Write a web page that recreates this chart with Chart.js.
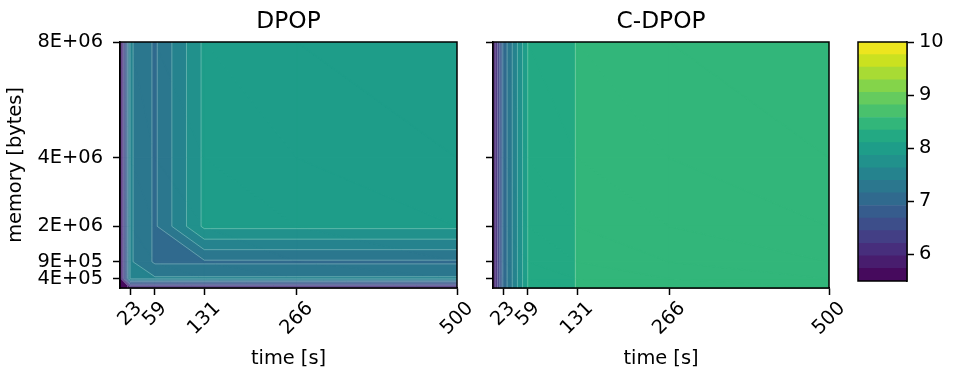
<!DOCTYPE html>
<html>
<head>
<meta charset="utf-8">
<script src="https://cdn.jsdelivr.net/npm/chart.js@4.4.0/dist/chart.umd.min.js"></script>
<style>
  html, body { margin: 0; padding: 0; background: #fff; }
  #wrap { position: relative; width: 954px; height: 377px; }
  #wrap canvas { position: absolute; left: 0; top: 0; }
</style>
</head>
<body>
<div id="wrap">
  <canvas id="dpop" width="954" height="377"></canvas>
  <canvas id="cdpop" width="954" height="377"></canvas>
  <canvas id="cbar" width="954" height="377"></canvas>
</div>
<script>
// grid of the contour data
const times = [8, 23, 59, 131, 266, 500];
const memories = [1e5, 4e5, 9.4e5, 2.08e6, 4.28e6, 8e6];
const timeTicks = [23, 59, 131, 266, 500];
const memoryTicks = [4e5, 9.4e5, 2.08e6, 4.28e6, 8e6];
const colorTicks = [6, 7, 8, 9, 10];

// rows = memories (bottom to top), columns = times
const dpopValues = [
  [5.55, 5.80, 5.80, 5.80, 5.80, 5.80],
  [5.55, 7.43, 7.43, 7.43, 7.43, 7.43],
  [5.55, 7.43, 7.12, 7.12, 7.12, 7.12],
  [5.55, 7.43, 7.12, 7.92, 7.92, 7.92],
  [5.55, 7.43, 7.12, 7.92, 7.95, 7.95],
  [5.55, 7.43, 7.12, 7.92, 7.95, 7.97]
];
const cdpopValues = [
  [5.60, 6.98, 8.11, 8.35, 8.40, 8.45],
  [5.60, 6.98, 8.11, 8.35, 8.40, 8.45],
  [5.60, 6.98, 8.11, 8.35, 8.40, 8.45],
  [5.60, 6.98, 8.11, 8.35, 8.40, 8.45],
  [5.60, 6.98, 8.11, 8.35, 8.40, 8.45],
  [5.60, 6.98, 8.11, 8.35, 8.40, 8.45]
];

const levelMin = 5.5, levelMax = 10, nLevels = 20;
const levels = [];
for (let k = 0; k < nLevels; k++) levels.push(levelMin + k * (levelMax - levelMin) / (nLevels - 1));

const viridisStops = ['#440154','#471365','#482475','#463480','#414487','#3b528b','#355f8d','#2f6c8e',
  '#2a788e','#25848e','#21918c','#1e9c89','#22a884','#2fb47c','#44bf70','#5ec962','#7ad151',
  '#9bd93c','#bddf26','#dfe318','#fde725'];

function hexRgb(h) { return [1, 3, 5].map(i => parseInt(h.substr(i, 2), 16)); }
function viridis(f) {
  const p = Math.min(Math.max(f, 0), 1) * (viridisStops.length - 1);
  const i = Math.min(Math.floor(p), viridisStops.length - 2), r = p - i;
  const a = hexRgb(viridisStops[i]), b = hexRgb(viridisStops[i + 1]);
  return 'rgb(' + a.map((c, n) => Math.round(c + (b[n] - c) * r)).join(',') + ')';
}
function bandColor(k) { return viridis((k + 0.5) / (levels.length - 1)); }

function sci(v) {
  const e = Math.floor(Math.log10(v));
  return Math.round(v / Math.pow(10, e)) + 'E+' + String(e).padStart(2, '0');
}

const FS = 19.4;
Chart.defaults.font.family = 'DejaVu Sans';
Chart.defaults.font.size = FS;
Chart.defaults.color = '#000';

function clipPoly(poly, L, sgn) {
  const out = [];
  for (let n = 0; n < poly.length; n++) {
    const a = poly[n], b = poly[(n + 1) % poly.length];
    const da = sgn * (a.v - L), db = sgn * (b.v - L);
    if (da >= 0) out.push(a);
    if ((da >= 0) !== (db >= 0)) {
      const f = da / (da - db);
      out.push({ x: a.x + f * (b.x - a.x), y: a.y + f * (b.y - a.y), v: a.v + f * (b.v - a.v) });
    }
  }
  return out;
}

// filled contours, drawn through the chart's scales
const contourPlugin = {
  id: 'contour',
  beforeDatasetsDraw(chart, args, opts) {
    const { ctx, chartArea: a, scales: { x, y } } = chart;
    const grid = opts.values;
    const px = times.map(t => x.getPixelForValue(t));
    const py = memories.map(m => y.getPixelForValue(m));
    const tris = [];
    for (let j = 0; j < memories.length - 1; j++) {
      for (let i = 0; i < times.length - 1; i++) {
        const bl = { x: px[i], y: py[j], v: grid[j][i] };
        const br = { x: px[i + 1], y: py[j], v: grid[j][i + 1] };
        const tl = { x: px[i], y: py[j + 1], v: grid[j + 1][i] };
        const tr = { x: px[i + 1], y: py[j + 1], v: grid[j + 1][i + 1] };
        tris.push([bl, br, tl], [tl, br, tr]);
      }
    }
    ctx.save();
    ctx.beginPath();
    ctx.rect(a.left, a.top, a.right - a.left, a.bottom - a.top);
    ctx.clip();
    for (let k = 0; k < levels.length - 1; k++) {
      const col = bandColor(k);
      ctx.fillStyle = col;
      ctx.strokeStyle = col;
      ctx.lineWidth = 1.3;
      ctx.lineJoin = 'round';
      for (const t of tris) {
        let p = clipPoly(t, levels[k], 1);
        if (p.length < 3) continue;
        p = clipPoly(p, levels[k + 1], -1);
        if (p.length < 3) continue;
        ctx.beginPath();
        p.forEach((q, n) => n ? ctx.lineTo(q.x, q.y) : ctx.moveTo(q.x, q.y));
        ctx.closePath();
        ctx.fill();
        ctx.stroke();
      }
    }
    // light seams along the level boundaries
    ctx.strokeStyle = 'rgba(255,255,255,0.28)';
    ctx.lineWidth = 1;
    for (const L of levels.slice(1, -1)) {
      for (const t of tris) {
        const pts = [];
        for (let n = 0; n < 3; n++) {
          const p = t[n], q = t[(n + 1) % 3];
          if ((p.v - L) * (q.v - L) < 0) {
            const f = (L - p.v) / (q.v - p.v);
            pts.push([p.x + f * (q.x - p.x), p.y + f * (q.y - p.y)]);
          }
        }
        if (pts.length === 2) {
          ctx.beginPath();
          ctx.moveTo(pts[0][0], pts[0][1]);
          ctx.lineTo(pts[1][0], pts[1][1]);
          ctx.stroke();
        }
      }
    }
    ctx.restore();
  }
};

// frame, title and rotated time labels
const decoPlugin = {
  id: 'deco',
  afterDraw(chart, args, opts) {
    const { ctx, chartArea: a } = chart;
    ctx.save();
    ctx.strokeStyle = '#000';
    ctx.lineWidth = 1.5;
    ctx.strokeRect(a.left, a.top, a.right - a.left, a.bottom - a.top);
    ctx.fillStyle = '#000';
    if (opts.title) {
      ctx.font = '23.3px "DejaVu Sans"';
      ctx.textAlign = 'center';
      ctx.textBaseline = 'alphabetic';
      ctx.fillText(opts.title, (a.left + a.right) / 2, 28);
    }
    if (opts.timeLabels) {
      const x = chart.scales.x;
      ctx.font = FS + 'px "DejaVu Sans"';
      ctx.textAlign = 'center';
      ctx.textBaseline = 'middle';
      for (const t of timeTicks) {
        const label = String(t);
        const w = ctx.measureText(label).width;
        const half = (w + FS * 0.8) * Math.SQRT1_2 / 2;
        ctx.save();
        ctx.translate(x.getPixelForValue(t), a.bottom + 12 + half);
        ctx.rotate(-Math.PI / 4);
        ctx.fillText(label, 0, 0);
        ctx.restore();
      }
    }
    ctx.restore();
  }
};

const tickGrid = { drawOnChartArea: false, drawTicks: true, tickLength: 7, tickWidth: 1.5, color: '#000' };

function panel(id, values, title, left, right, showY) {
  new Chart(document.getElementById(id), {
    type: 'scatter',
    data: { datasets: [{ data: times.map(t => ({ x: t, y: memories[0] })), pointRadius: 0 }] },
    plugins: [contourPlugin, decoPlugin],
    options: {
      responsive: false, animation: false, devicePixelRatio: 1,
      layout: { padding: { left: showY ? 0 : left - 23, right: 954 - right, top: 42, bottom: 0 } },
      plugins: {
        legend: { display: false }, tooltip: { enabled: false },
        contour: { values: values },
        deco: { title: title, timeLabels: true }
      },
      scales: {
        x: {
          type: 'linear', min: times[0], max: times[times.length - 1],
          afterBuildTicks: s => { s.ticks = timeTicks.map(v => ({ value: v })); },
          afterFit: s => { s.height = 377 - 288; },
          ticks: { display: false },
          grid: tickGrid,
          border: { display: true, color: '#000', width: 1.5 },
          title: { display: true, text: 'time [s]', padding: { top: 0, bottom: 6 } }
        },
        y: {
          type: 'linear', min: memories[0], max: memories[memories.length - 1],
          afterBuildTicks: s => { s.ticks = memoryTicks.map(v => ({ value: v })); },
          afterFit: s => { s.width = showY ? left : 23; },
          ticks: { display: showY, padding: 10, callback: v => sci(v) },
          grid: tickGrid,
          border: { display: true, color: '#000', width: 1.5 },
          title: { display: showY, text: 'memory [bytes]', padding: { top: 4, bottom: 0 } }
        }
      }
    }
  });
}

panel('dpop', dpopValues, 'DPOP', 120, 457, true);
panel('cdpop', cdpopValues, 'C-DPOP', 493, 829, false);

// colorbar as stacked floating bars
new Chart(document.getElementById('cbar'), {
  type: 'bar',
  data: {
    labels: ['levels'],
    datasets: levels.slice(0, -1).map((lo, k) => ({
      data: [[lo, levels[k + 1]]],
      backgroundColor: bandColor(k),
      borderWidth: 0,
      barPercentage: 1,
      categoryPercentage: 1,
      grouped: false
    }))
  },
  plugins: [decoPlugin],
  options: {
    responsive: false, animation: false, devicePixelRatio: 1,
    layout: { padding: { left: 858, right: 0, top: 42, bottom: 377 - 281 } },
    plugins: { legend: { display: false }, tooltip: { enabled: false }, deco: {} },
    scales: {
      x: { display: false },
      y: {
        position: 'right', min: levelMin, max: levelMax,
        afterBuildTicks: s => { s.ticks = colorTicks.map(v => ({ value: v })); },
        afterFit: s => { s.width = 954 - 907; },
        ticks: { padding: 5 },
        grid: tickGrid,
        border: { display: true, color: '#000', width: 1.5 }
      }
    }
  }
});
</script>
</body>
</html>
